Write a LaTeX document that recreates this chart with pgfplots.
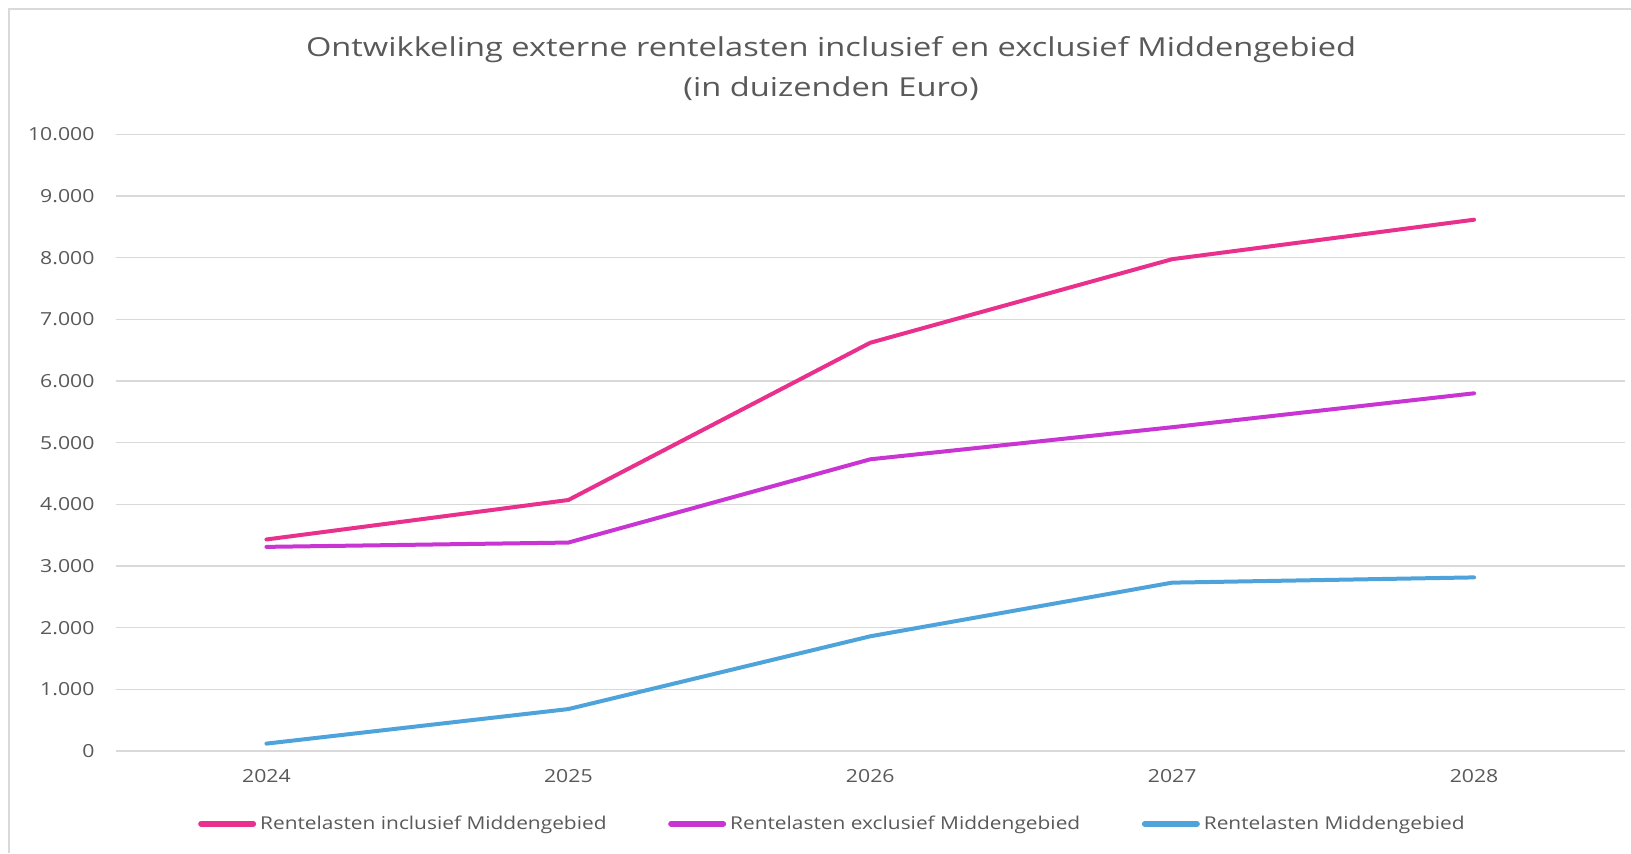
\documentclass[border=0pt]{standalone}
\usepackage{pgfplots}
\pgfplotsset{compat=1.18}
\usepackage{fontspec}
\setmainfont[FakeStretch=1.18]{Open Sans}
\newfontfamily\titlefont[FakeStretch=1.25]{Open Sans}
\definecolor{ink}{HTML}{595959}
\definecolor{gridc}{HTML}{D9D9D9}
\definecolor{cpink}{HTML}{E8308C}
\definecolor{cpurple}{HTML}{C935D2}
\definecolor{cblue}{HTML}{4EA3DA}
\begin{document}
\begin{tikzpicture}
\path[use as bounding box] (0,0) rectangle (815.5pt,426.5pt);
\draw[gridc, line width=1pt] (4.25pt,0) -- (4.25pt,422pt) -- (815.5pt,422pt);
\node[ink, font=\titlefont\fontsize{13.05}{15}\selectfont] at (415.5pt,401.5pt) {Ontwikkeling externe rentelasten inclusief en exclusief Middengebied};
\node[ink, font=\titlefont\fontsize{13.05}{15}\selectfont] at (415.5pt,382pt) {(in duizenden Euro)};
\begin{axis}[
  at={(57.75pt,51pt)}, anchor=south west,
  scale only axis, width=754.75pt, height=308.35pt,
  xmin=2023.5, xmax=2028.5, ymin=0, ymax=10000,
  xtick={2024,2025,2026,2027,2028},
  xticklabels={2024,2025,2026,2027,2028},
  ytick={0,1000,...,10000},
  scaled y ticks=false,
  /pgf/number format/fixed,
  /pgf/number format/1000 sep={.},
  /pgf/number format/assume math mode=true,
  ticklabel style={font=\fontsize{9}{10}\selectfont, text=ink},
  xticklabel style={yshift=-5.5pt},
  yticklabel style={xshift=-7pt},
  axis line style={draw=none},
  tick style={draw=none},
  ymajorgrids, grid style={gridc, line width=0.75pt},
  legend columns=3,
  legend style={at={(0.0545,-0.118)}, anchor=west, draw=none, fill=none, inner sep=0pt,
    font=\fontsize{8.85}{10}\selectfont, text=ink,
    /tikz/every even column/.append style={column sep=28.8pt}},
  legend image code/.code={\draw[#1, line width=3pt, line cap=round] (0pt,0pt) -- (26pt,0pt);},
  every axis plot/.append style={line width=2pt, line cap=round, line join=round, mark=none},
]
\addplot[cpink] coordinates {(2024,3430) (2025,4070) (2026,6620) (2027,7975) (2028,8615)};
\addlegendentry[xshift=-1.2pt]{Rentelasten inclusief Middengebied}
\addplot[cpurple] coordinates {(2024,3310) (2025,3380) (2026,4730) (2027,5250) (2028,5800)};
\addlegendentry[xshift=-1.2pt]{Rentelasten exclusief Middengebied}
\addplot[cblue] coordinates {(2024,120) (2025,680) (2026,1860) (2027,2730) (2028,2815)};
\addlegendentry[xshift=-1.2pt]{Rentelasten Middengebied}
\end{axis}
\end{tikzpicture}
\end{document}
